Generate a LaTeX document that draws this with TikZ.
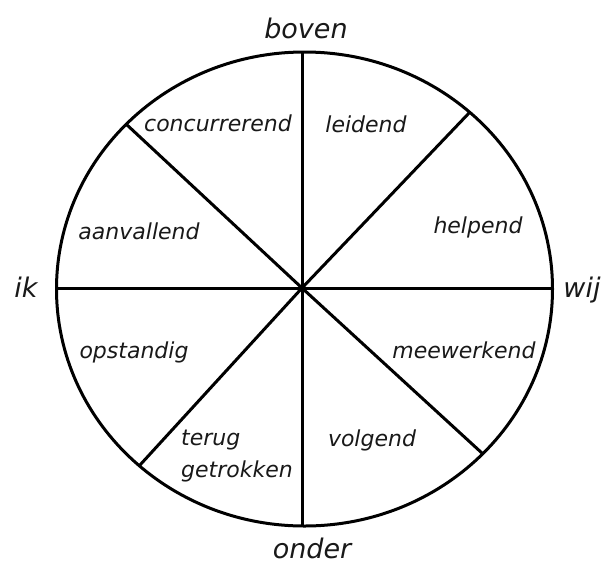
\documentclass[tikz,border=0pt]{standalone}
\usepackage{fontspec}
\setmainfont{DejaVu Sans}
\begin{document}
\begin{tikzpicture}[x=1pt,y=-1pt,
  ring/.style={line width=3pt,draw=black},
  spoke/.style={line width=3pt,draw=black},
  seg/.style={font=\fontsize{22}{32}\selectfont\itshape,text=black!90,inner sep=0pt},
  axis/.style={font=\fontsize{27}{32}\selectfont\itshape,text=black!90,inner sep=0pt}]
\useasboundingbox (0,0) rectangle (606,566);
\fill[white] (0,0) rectangle (606,566);
\coordinate (o) at (302,288);
\coordinate (top) at (302,52.5);
\coordinate (bot) at (302,526);
\coordinate (lft) at (56.5,288);
\coordinate (rgt) at (552.5,288);
\coordinate (ul) at (126,124);
\coordinate (ur) at (470,112);
\coordinate (ll) at (140,465);
\coordinate (lr) at (483,454);
\draw[ring] (304.5,289) ellipse [x radius=248, y radius=237];
\draw[spoke] (top) -- (bot);
\draw[spoke] (lft) -- (rgt);
\draw[spoke] (ul) -- (o) -- (lr);
\draw[spoke] (ur) -- (o) -- (ll);
\node[axis] (boven) at (306,28) {boven};
\node[axis] (onder) at (312,548) {onder};
\node[axis] (ik) at (26,287) {ik};
\node[axis] (wij) at (582,290) {wij};
\node[seg] (concurrerend) at (218,123) {concurrerend};
\node[seg] (leidend) at (366,124) {leidend};
\node[seg] (helpend) at (478,227) {helpend};
\node[seg] (aanvallend) at (139,231) {aanvallend};
\node[seg] (opstandig) at (134,352) {opstandig};
\node[seg] (meewerkend) at (464,350) {meewerkend};
\node[seg] (volgend) at (372,440) {volgend};
\node[seg,align=left] (terug) at (237,456) {terug\\getrokken};
\end{tikzpicture}
\end{document}
